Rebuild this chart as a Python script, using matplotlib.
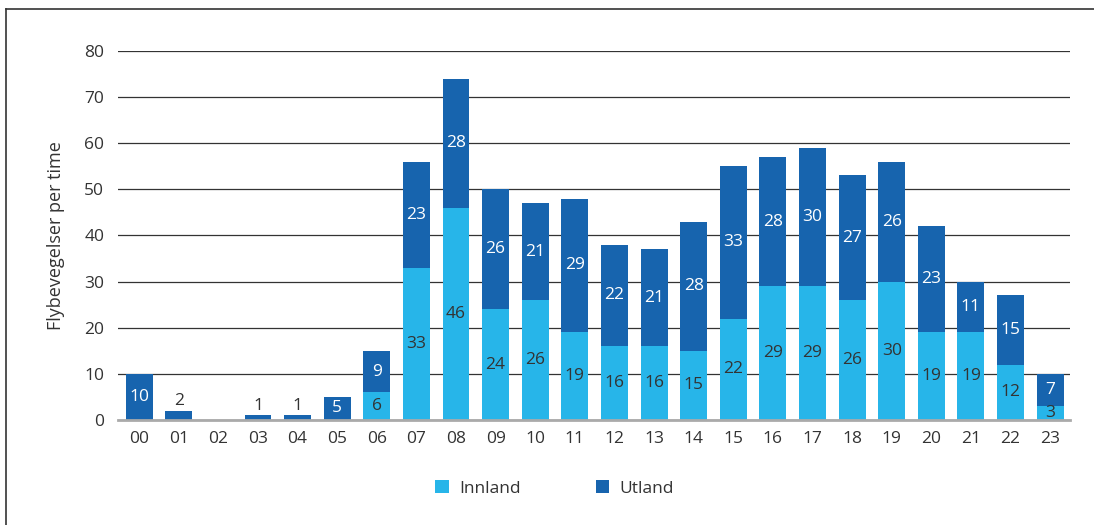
import numpy as np
import matplotlib.pyplot as plt
from matplotlib.lines import Line2D

hours = ['00', '01', '02', '03', '04', '05', '06', '07', '08', '09', '10', '11',
         '12', '13', '14', '15', '16', '17', '18', '19', '20', '21', '22', '23']
innland = [0, 0, 0, 0, 0, 0, 6, 33, 46, 24, 26, 19, 16, 16, 15, 22, 29, 29, 26, 30, 19, 19, 12, 3]
utland = [10, 2, 0, 1, 1, 5, 9, 23, 28, 26, 21, 29, 22, 21, 28, 33, 28, 30, 27, 26, 23, 11, 15, 7]

c_inn = '#27B5E9'
c_utl = '#1764AE'
txt = '#333333'

plt.rcParams['font.family'] = ['Open Sans', 'DejaVu Sans']

fig = plt.figure(figsize=(10.94, 5.25), dpi=100)
ax = fig.add_axes([0.108, 0.2, 0.870, 0.703])

x = np.arange(len(hours))
w = 0.68
b1 = ax.bar(x, innland, w, color=c_inn, label='Innland', zorder=2)
b2 = ax.bar(x, utland, w, bottom=innland, color=c_utl, label='Utland', zorder=2)

for i in range(len(hours)):
    if innland[i] > 0:
        ax.text(x[i], innland[i] / 2, str(innland[i]), ha='center', va='center',
                fontsize=12.5, color=txt, zorder=3)
    u = utland[i]
    if u >= 3:
        ax.text(x[i], innland[i] + u / 2, str(u), ha='center', va='center',
                fontsize=12.5, color='white', zorder=3)
    elif u > 0:
        ax.text(x[i], innland[i] + u + 0.3, str(u), ha='center', va='bottom',
                fontsize=12.5, color=txt, zorder=3)

ax.set_xlim(-0.53, 23.5)
ax.set_ylim(0, 80)
ax.set_yticks(range(0, 81, 10))
ax.set_xticks(x)
ax.set_xticklabels(hours)
ax.tick_params(length=0, labelsize=12.5, colors=txt, pad=8)
ax.tick_params(axis='y', pad=10)
ax.grid(axis='y', color='#333333', lw=0.9, zorder=0)
for s in ['top', 'right', 'left']:
    ax.spines[s].set_visible(False)
ax.spines['bottom'].set_color('#aaaaaa')
ax.spines['bottom'].set_linewidth(2)
ax.spines['bottom'].set_zorder(4)
ax.set_ylabel('Flybevegelser per time', fontsize=13, color=txt, labelpad=14)

fig.legend(handles=[b1, b2], loc='center', bbox_to_anchor=(0.507, 0.07), ncol=2,
           frameon=False, fontsize=12.5, handlelength=0.8, handleheight=0.8,
           handletextpad=0.6, columnspacing=4.3, labelcolor=txt)

# outer frame, left and top only
fig.add_artist(Line2D([6 / 1094, 6 / 1094], [0, 1 - 9 / 525], transform=fig.transFigure,
                      color='#333333', lw=1.2))
fig.add_artist(Line2D([6 / 1094, 1], [1 - 9 / 525, 1 - 9 / 525], transform=fig.transFigure,
                      color='#333333', lw=1.2))

fig.savefig('out.png', dpi=100)
